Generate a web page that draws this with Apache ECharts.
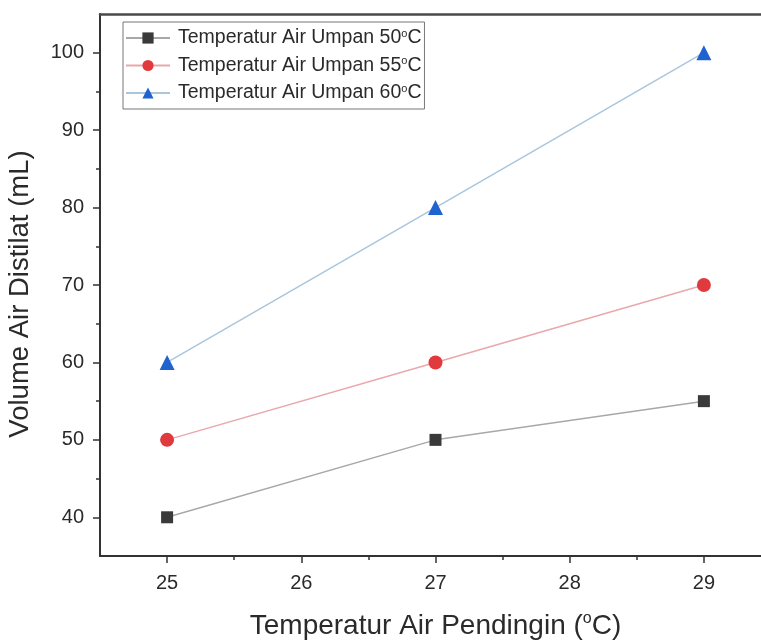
<!DOCTYPE html>
<html>
<head>
<meta charset="utf-8">
<script src="https://cdn.jsdelivr.net/npm/echarts@6/dist/echarts.min.js"></script>
<style>html,body{margin:0;padding:0;background:#fff}#c{width:761px;height:643px}</style>
</head>
<body>
<div id="c"></div>
<script>
const xValues = [25, 27, 29];
const xTickLabels = [25, 26, 27, 28, 29];
const xMinorTicks = [25.5, 26.5, 27.5, 28.5];
const yTickLabels = [40, 50, 60, 70, 80, 90, 100];
const yMinorTicks = [45, 55, 65, 75, 85, 95];
const seriesNames = ['Temperatur Air Umpan 50', 'Temperatur Air Umpan 55', 'Temperatur Air Umpan 60'];
const s50 = [40, 50, 55];
const s55 = [50, 60, 70];
const s60 = [60, 80, 100];

const chart = echarts.init(document.getElementById('c'));
const font = 'Liberation Sans, Arial, sans-serif';
function mk(vals) { return vals.map((v, i) => [xValues[i], v]); }
const axisColor = '#333';
const txt = '#2a2a2a';
const X0 = 24.5, X1 = 29.5, Y0 = 35, Y1 = 105;
chart.setOption({
  animation: false,
  textStyle: { fontFamily: font },
  grid: { left: 100, top: 14, right: -10, bottom: 87, outerBoundsMode: 'none', containLabel: false },
  legend: {
    left: 123, top: 22, orient: 'vertical', itemGap: 7.5,
    itemWidth: 44, itemHeight: 14,
    padding: [6, 3, 6, 2],
    borderColor: '#777', borderWidth: 1,
    formatter: n => '{g|}{a|' + n + '}{s|o}{a|C}',
    textStyle: {
      rich: {
        g: { width: 3 },
        a: { fontSize: 19.5, lineHeight: 20, color: txt, fontFamily: font },
        s: { fontSize: 11, color: txt, verticalAlign: 'top', padding: [0, 0, 9, 0], fontFamily: font }
      }
    },
    data: seriesNames
  },
  xAxis: [{
    type: 'value', min: X0, max: X1,
    axisLine: { lineStyle: { color: axisColor, width: 2 } },
    axisTick: { show: true, inside: false, length: 7, customValues: xTickLabels, lineStyle: { color: axisColor, width: 1.5 } },
    axisLabel: { fontSize: 20, color: txt, margin: 17, customValues: xTickLabels },
    splitLine: { show: false },
    name: '{a|Temperatur Air Pendingin (}{s|o}{a|C)}',
    nameLocation: 'middle', nameGap: 55,
    nameTextStyle: {
      rich: {
        a: { fontSize: 28, color: txt, fontFamily: font },
        s: { fontSize: 16, color: txt, verticalAlign: 'top', padding: [0, 0, 14, 0], fontFamily: font }
      }
    }
  }, {
    type: 'value', position: 'top', min: X0, max: X1,
    axisLine: { show: true, onZero: false, lineStyle: { color: '#4a4a4a', width: 2.5 } },
    axisTick: { show: false }, axisLabel: { show: false }, splitLine: { show: false }
  }, {
    type: 'value', position: 'bottom', min: X0, max: X1,
    axisLine: { show: false },
    axisTick: { show: true, inside: false, length: 4, customValues: xMinorTicks, lineStyle: { color: axisColor, width: 1.5 } },
    axisLabel: { show: false }, splitLine: { show: false }
  }],
  yAxis: [{
    type: 'value', min: Y0, max: Y1,
    axisLine: { show: true, lineStyle: { color: axisColor, width: 2 } },
    axisTick: { show: true, inside: false, length: 7, customValues: yTickLabels, lineStyle: { color: axisColor, width: 1.5 } },
    axisLabel: { fontSize: 20, color: txt, margin: 16, customValues: yTickLabels },
    splitLine: { show: false },
    name: 'Volume Air Distilat (mL)', nameLocation: 'middle', nameGap: 66,
    nameTextStyle: { fontSize: 27.5, color: txt, fontFamily: font, padding: [0, 18, 0, 0] }
  }, {
    type: 'value', position: 'left', min: Y0, max: Y1,
    axisLine: { show: false },
    axisTick: { show: true, inside: false, length: 4, customValues: yMinorTicks, lineStyle: { color: axisColor, width: 1.5 } },
    axisLabel: { show: false }, splitLine: { show: false }
  }],
  series: [
    { name: seriesNames[0], type: 'line', data: mk(s50), symbol: 'rect', symbolSize: 12,
      itemStyle: { color: '#3a3a3a' }, lineStyle: { color: '#a8a8a8', width: 1.5 } },
    { name: seriesNames[1], type: 'line', data: mk(s55), symbol: 'circle', symbolSize: 14,
      itemStyle: { color: '#e03a3e' }, lineStyle: { color: '#e9a8ac', width: 1.5 } },
    { name: seriesNames[2], type: 'line', data: mk(s60), symbol: 'triangle', symbolSize: 15,
      itemStyle: { color: '#1f63d0' }, lineStyle: { color: '#a9c6de', width: 1.5 } }
  ]
});
</script>
</body>
</html>
